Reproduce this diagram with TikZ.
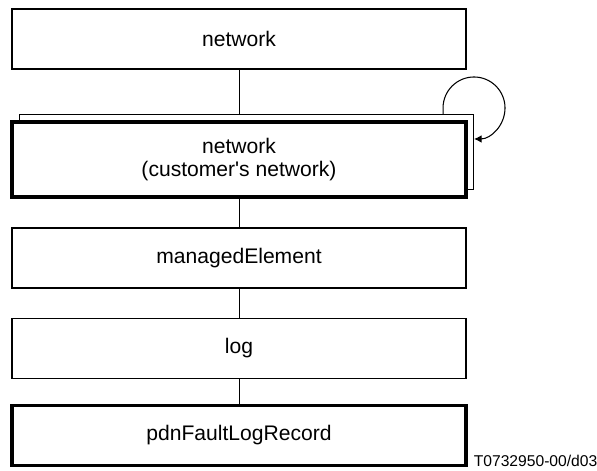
\documentclass[tikz,border=0pt]{standalone}
\usepackage{fontspec}
\setmainfont{Liberation Sans}
\usetikzlibrary{arrows.meta,backgrounds}
\tikzset{
  objbox/.style={draw, fill=white, line width=0.6pt, minimum width=9.08cm,
    minimum height=1.2cm, inner sep=0pt, align=center,
    font=\fontsize{12}{13.5}\selectfont},
  keybox/.style={objbox, line width=1.8pt},
}
\begin{document}
\begin{tikzpicture}
  \useasboundingbox (0,0) rectangle (11.94,9.4);
  \node[objbox] (net) at (4.78,8.62) {network};
  \node[objbox, minimum height=1.5cm] (shadow) at (4.93,6.36) {};
  \node[keybox, minimum height=1.5cm] (cust) at (4.78,6.21) {network\\(customer\textquotesingle s network)};
  \node[objbox] (me) at (4.78,4.24) {managedElement};
  \node[objbox] (log) at (4.78,2.43) {log};
  \node[keybox] (rec) at (4.78,0.69) {pdnFaultLogRecord};
  \node[anchor=base west, inner sep=0pt, font=\fontsize{8.9}{10}\selectfont]
    (tag) at (9.47,0.08) {T0732950-00/d03};
  \begin{scope}[on background layer, line width=0.6pt]
    \draw (net) -- (cust);
    \draw (cust) -- (me);
    \draw (me) -- (log);
    \draw (log) -- (rec);
  \end{scope}
  % contains relation on itself
  \coordinate (loopstart) at ([xshift=-0.62cm]shadow.north east);
  \draw[line width=0.6pt, -{Latex[length=1.5mm,width=1.5mm]}]
    (loopstart) -- ++(0,0.12) arc[start angle=180, end angle=-90, radius=0.62cm];
\end{tikzpicture}
\end{document}
